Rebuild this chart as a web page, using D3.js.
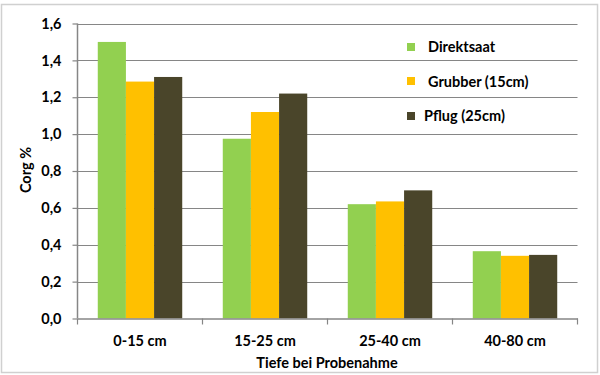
<!DOCTYPE html>
<html><head><meta charset="utf-8">
<script src="https://cdn.jsdelivr.net/npm/d3@7"></script>
<style>body{margin:0;background:#fff}svg{display:block}text{font-family:Lato,"Open Sans",sans-serif;font-weight:bold;fill:#000}</style>
</head><body><svg id="c" width="600" height="375"></svg>
<script>
const categories = ["0-15 cm","15-25 cm","25-40 cm","40-80 cm"];
const seriesNames = ["Direktsaat","Grubber (15cm)","Pflug (25cm)"];
const direktsaat = [1.50, 0.975, 0.62, 0.365];
const grubber = [1.285, 1.12, 0.635, 0.34];
const pflug = [1.31, 1.22, 0.695, 0.345];
const yTicks = [0,0.2,0.4,0.6,0.8,1.0,1.2,1.4,1.6];
const colors = ["#92D050","#FFC000","#4A452A"];
const series = [direktsaat, grubber, pflug];

const FS = "14.5px";
const svg = d3.select("#c");
svg.append("rect").attr("x",1.5).attr("y",4.5).attr("width",596).attr("height",368)
  .attr("fill","#fff").attr("stroke","#d0d0d0").attr("stroke-width",1.5);

const pL=77.5, pR=577.5, pT=23.5, pB=318.5;
const x = d3.scaleBand().domain(categories).range([pL,pR]).paddingInner(0).paddingOuter(0);
const xs = d3.scaleBand().domain(seriesNames).range([0,x.bandwidth()]).paddingInner(0).paddingOuter(0.72);
const y = d3.scaleLinear().domain([0,1.6]).range([pB,pT]);

// gridlines
svg.append("g").selectAll("line").data(yTicks.slice(1)).join("line")
  .attr("x1",pL).attr("x2",pR).attr("y1",d=>Math.round(y(d))+0.5).attr("y2",d=>Math.round(y(d))+0.5)
  .attr("stroke","#868686").attr("stroke-width",1.2);

// bars
const g = svg.append("g");
series.forEach((vals,si)=>{
  g.selectAll(null).data(vals).join("rect")
    .attr("x",(d,i)=>x(categories[i])+xs(seriesNames[si]))
    .attr("width",xs.bandwidth())
    .attr("y",d=>y(d)).attr("height",d=>pB-y(d))
    .attr("fill",colors[si]);
});

// y axis
const ya = svg.append("g").attr("transform",`translate(${pL},0)`)
  .call(d3.axisLeft(y).tickValues(yTicks).tickSize(5).tickPadding(11).tickFormat(d=>d3.format(".1f")(d).replace(".",",")));
ya.select(".domain").attr("stroke","#868686").attr("stroke-width",1.5).attr("d",`M0,${pT}V${pB}`);
ya.selectAll(".tick line").attr("stroke","#868686").attr("stroke-width",1.2);
ya.selectAll(".tick text").style("font-size",FS).style("font-weight","bold").attr("fill","#000");

// x axis
const xa = svg.append("g").attr("transform",`translate(0,${pB})`)
  .call(d3.axisBottom(x).tickSize(0).tickPadding(17));
xa.select(".domain").attr("stroke","#868686").attr("stroke-width",1.5);
xa.selectAll(".tick text").style("font-size",FS).style("font-weight","bold").attr("fill","#000");
svg.append("g").selectAll("line").data(categories.concat([null])).join("line")
  .attr("x1",(d,i)=>pL+i*x.step()).attr("x2",(d,i)=>pL+i*x.step())
  .attr("y1",pB).attr("y2",pB+6).attr("stroke","#868686").attr("stroke-width",1.2);

// axis titles
svg.append("text").attr("transform","translate(31,170) rotate(-90)").attr("text-anchor","middle")
  .style("font-size",FS).text("Corg %");
svg.append("text").attr("x",327).attr("y",368).attr("text-anchor","middle")
  .style("font-size",FS).text("Tiefe bei Probenahme");

// legend
const legPos = [{sx:407,sy:43,tx:428,ty:52},{sx:407,sy:77,tx:428,ty:87},{sx:407,sy:112,tx:424,ty:121}];
const leg = svg.append("g");
seriesNames.forEach((n,i)=>{
  const p=legPos[i];
  leg.append("rect").attr("x",p.sx).attr("y",p.sy).attr("width",8).attr("height",8).attr("fill",colors[i]);
  leg.append("text").attr("x",p.tx).attr("y",p.ty).style("font-size",FS).text(n);
});
</script></body></html>
